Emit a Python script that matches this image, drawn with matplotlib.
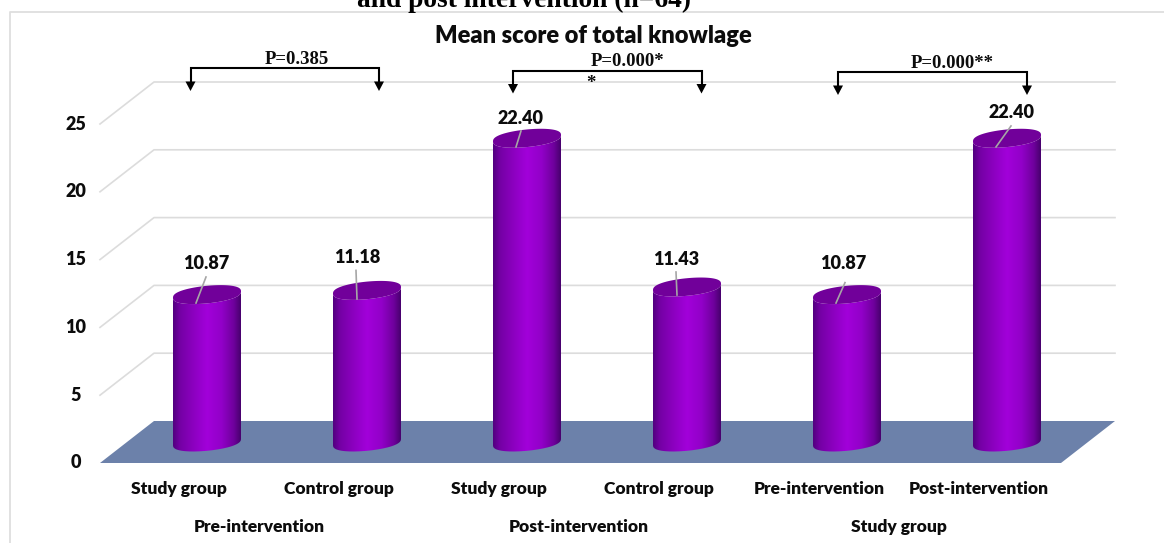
import numpy as np
import matplotlib
matplotlib.use("Agg")
import matplotlib.pyplot as plt
from matplotlib.colors import LinearSegmentedColormap
from matplotlib.patches import PathPatch, Polygon
from matplotlib.path import Path

# Chart data
categories = ["Study group", "Control group", "Study group", "Control group",
              "Pre-intervention", "Post-intervention"]
group_labels = ["Pre-intervention", "Post-intervention", "Study group"]
mean_scores = [10.87, 11.18, 22.40, 11.43, 10.87, 22.40]
score_labels = ["10.87", "11.18", "22.40", "11.43", "10.87", "22.40"]
y_ticks = [0, 5, 10, 15, 20, 25]
p_labels = ["P=0.385", "P=0.000*", "P=0.000**"]

W, H = 1164, 543
PX_PER_CAT = 160.0
PX_PER_UNIT = 13.56
X0_PX, Y0_PX = 179.0, 463.0
SANS = "Lato"
SERIF = "Liberation Serif"
GRID = "#dcdcdc"
INK = "#0c0c0c"
HEAVY = 800

fig = plt.figure(figsize=(W / 100, H / 100), dpi=100, facecolor="white")

# Value axes: one unit on x is one category, one unit on y is one score point
ax = fig.add_axes([0, 0, 1, 1])
ax.set_xlim(-X0_PX / PX_PER_CAT, (W - X0_PX) / PX_PER_CAT)
ax.set_ylim((Y0_PX - H) / PX_PER_UNIT, Y0_PX / PX_PER_UNIT)
ax.axis("off")

# Oblique 3D depth, expressed in axis units
back_dx, back_dy = 54 / PX_PER_CAT, 42 / PX_PER_UNIT
bar_dx, bar_dy = 28 / PX_PER_CAT, 21 / PX_PER_UNIT
left = (100 - X0_PX) / PX_PER_CAT
right = (1061 - X0_PX) / PX_PER_CAT

# Wall gridlines
for t in y_ticks[1:]:
    ax.plot([left, left + back_dx, right + back_dx],
            [t, t + back_dy, t + back_dy], color=GRID, lw=1.2, zorder=1)

# Floor
ax.add_patch(Polygon([(left, 0), (right, 0), (right + back_dx, back_dy),
                      (left + back_dx, back_dy)], closed=True,
                     facecolor="#6c81aa", edgecolor="none", zorder=2))

# Cylinders
shade = LinearSegmentedColormap.from_list(
    "cylinder", [(0, "#520080"), (0.10, "#7400a4"), (0.30, "#8c00c0"),
                 (0.50, "#a200da"), (0.72, "#9200c8"), (0.90, "#6e009c"),
                 (1, "#48006e")])
half_w = 34 / PX_PER_CAT
ell_h = 8.8 / PX_PER_UNIT
tilt = 3.2 / PX_PER_UNIT
t_arc = np.linspace(0, 2 * np.pi, 241)
# A slightly squared ellipse gives the flatter caps of the cylinders
sin_sq = np.sign(np.sin(t_arc)) * np.abs(np.sin(t_arc)) ** 0.8

for i, val in enumerate(mean_scores):
    cx, base = i + bar_dx, bar_dy
    top = base + val
    cap_x = cx + half_w * np.cos(t_arc)
    cap_y = top + ell_h * sin_sq + tilt * np.cos(t_arc)
    low_x = cap_x[:121]
    low_y = base - ell_h * sin_sq[:121] + tilt * np.cos(t_arc[:121])
    body = np.vstack([
        np.column_stack([low_x, low_y]),
        np.column_stack([cap_x[120:], cap_y[120:]]),
    ])
    clip = PathPatch(Path(np.vstack([body, body[0]])), transform=ax.transData,
                     facecolor="none", edgecolor="none")
    ax.add_patch(clip)
    im = ax.imshow(np.linspace(0, 1, 128)[None, :], cmap=shade, aspect="auto",
                   extent=(cx - half_w, cx + half_w, base - 2, top + 2),
                   zorder=3, interpolation="bilinear")
    im.set_clip_path(clip)
    ax.fill(cap_x, cap_y, color="#71009a", lw=0, zorder=4)
ax.set_xlim(-X0_PX / PX_PER_CAT, (W - X0_PX) / PX_PER_CAT)
ax.set_ylim((Y0_PX - H) / PX_PER_UNIT, Y0_PX / PX_PER_UNIT)

# Value labels with leader lines (offsets from each cap centre, in pixels)
label_offsets = [(-1, 31), (-10, 33), (-6, 20), (-11, 28), (-4, 31), (5, 26)]
leaders = [((-11, -8.4), (-1, 17.6)), ((-10, -8.6), (-11, 20)),
           ((-11, -8.7), (-6, 7.3)), ((-10, -8), (-11, 15)),
           ((-11, -8.4), (-2, 12)), ((-11, -8.7), (4, 12.3))]
for i, (val, txt, off, leader) in enumerate(zip(mean_scores, score_labels,
                                                label_offsets, leaders)):
    cx, top = i + bar_dx, bar_dy + val
    (x1, y1), (x2, y2) = leader
    ax.plot([cx + x1 / PX_PER_CAT, cx + x2 / PX_PER_CAT],
            [top + y1 / PX_PER_UNIT, top + y2 / PX_PER_UNIT],
            color="#a6a6a6", lw=1.2, zorder=5)
    ax.text(cx + off[0] / PX_PER_CAT, top + off[1] / PX_PER_UNIT,
            txt, ha="center", va="center", family=SANS, weight=HEAVY,
            fontsize=13, color=INK, zorder=6)

# Axis tick labels
for t in y_ticks:
    ax.text((76 - X0_PX) / PX_PER_CAT, t, str(t), ha="center", va="center",
            family=SANS, weight=HEAVY, fontsize=13, color=INK)
for i, c in enumerate(categories):
    ax.text(i, -1.9, c, ha="center", va="center", family=SANS, weight=HEAVY,
            fontsize=12.5, color=INK)
for g, name in enumerate(group_labels):
    ax.text(2 * g + 0.5, -4.7, name, ha="center", va="center", family=SANS,
            weight=HEAVY, fontsize=12.5, color=INK)

# Overlay in figure pixels for the frame, headings and significance brackets
ov = fig.add_axes([0, 0, 1, 1])
ov.set_xlim(0, W)
ov.set_ylim(H, 0)
ov.axis("off")
ov.patch.set_alpha(0)

ov.plot([10, 10, W], [H, 12, 12], color="#dedede", lw=1.3)
ov.text(524, 0, "and post intervention (n=64)", ha="center", va="center",
        family=SERIF, weight="bold", fontsize=19.8, color="black")
ov.text(593, 36, "Mean score of total knowlage", ha="center", va="center",
        family=SANS, weight=HEAVY, fontsize=17, color=INK)

brackets = [(190.5, 379, 68, 91), (513, 701.5, 70.5, 93.5), (838, 1027, 72, 95)]
p_pos = [(297, 59), (628, 62), (952, 63)]
for (xa, xb, y, tip), txt, (tx, ty) in zip(brackets, p_labels, p_pos):
    ov.plot([xa, xa, xb, xb], [tip - 9, y, y, tip - 9], color="black", lw=1.5,
            solid_joinstyle="miter")
    for xh in (xa, xb):
        ov.add_patch(Polygon([(xh - 5, tip - 9.5), (xh + 5, tip - 9.5), (xh, tip)],
                             closed=True, facecolor="black", edgecolor="none"))
    ov.text(tx, ty, txt, ha="center", va="center", family=SERIF,
            weight="bold", fontsize=13.5, color=INK)
ov.text(591, 84, "*", ha="center", va="center", family=SERIF,
        weight="bold", fontsize=13.5, color=INK)

fig.savefig("out.png", dpi=100)
